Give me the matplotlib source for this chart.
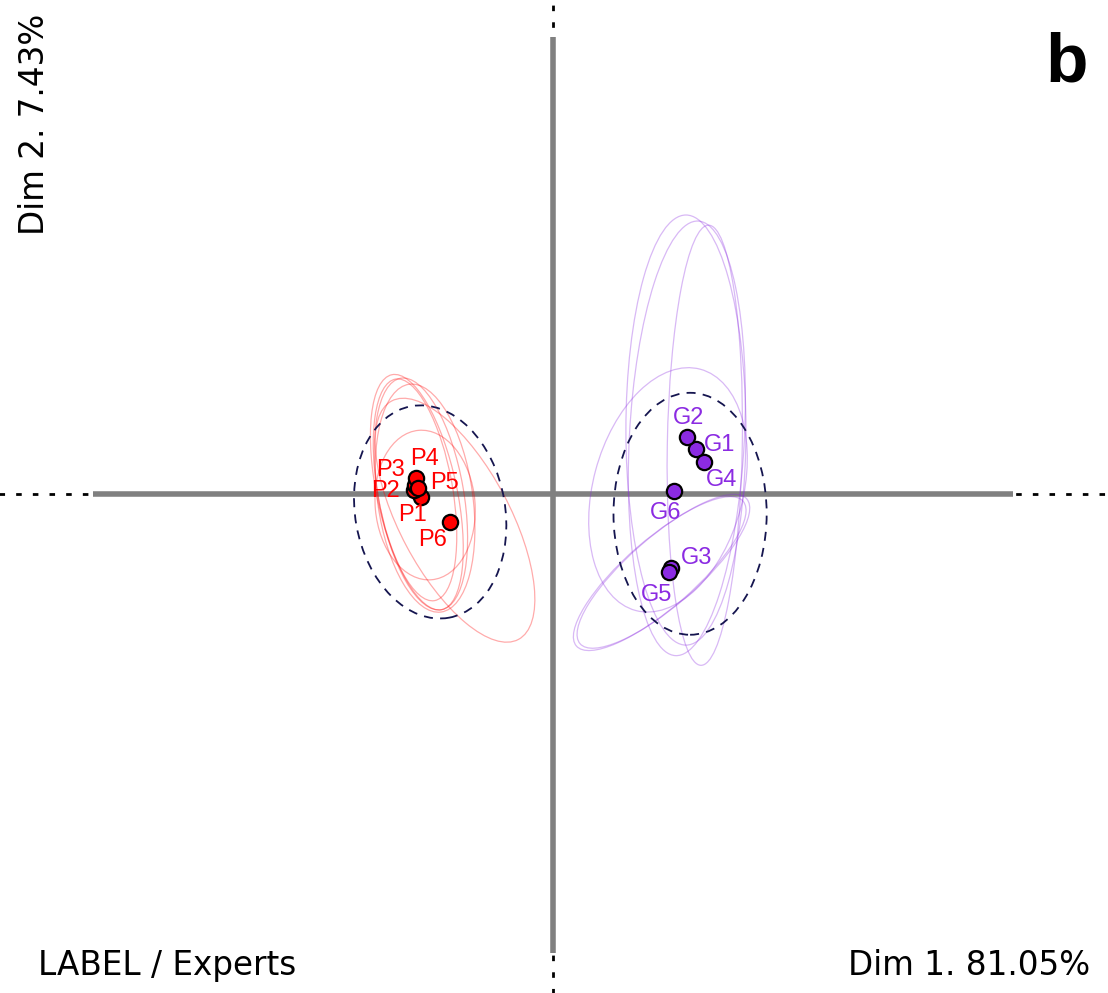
import matplotlib
matplotlib.use("Agg")
import matplotlib.pyplot as plt
from matplotlib.patches import Ellipse

# products and their coordinates on Dim 1 / Dim 2
red_names = ["P1", "P2", "P3", "P4", "P5", "P6"]
red_x = [-0.286, -0.302, -0.300, -0.297, -0.293, -0.224]
red_y = [-0.006, 0.009, 0.020, 0.034, 0.013, -0.060]

purple_names = ["G1", "G2", "G3", "G4", "G5", "G6"]
purple_x = [0.311, 0.292, 0.257, 0.329, 0.252, 0.263]
purple_y = [0.097, 0.123, -0.161, 0.070, -0.170, 0.007]

# confidence ellipses per product: centre x, centre y, width, height, angle
red_ell_cx = [-0.287, -0.296, -0.278, -0.300, -0.278, -0.213]
red_ell_cy = [0.000, 0.004, -0.009, 0.009, -0.024, -0.057]
red_ell_w = [0.185, 0.174, 0.207, 0.163, 0.217, 0.239]
red_ell_h = [0.511, 0.522, 0.500, 0.489, 0.326, 0.587]
red_ell_a = [10, 12, 8, 10, 5, 28]

pur_ell_cx = [0.289, 0.291, 0.330, 0.250, 0.232, 0.240]
pur_ell_cy = [0.139, 0.121, 0.106, 0.009, -0.173, -0.168]
pur_ell_w = [0.261, 0.250, 0.163, 0.326, 0.480, 0.480]
pur_ell_h = [0.935, 0.946, 0.957, 0.543, 0.150, 0.150]
pur_ell_a = [0, -3, -1, -15, 41, 41]

# group ellipses (dashed)
grp_cx = [-0.267, 0.298]
grp_cy = [-0.039, -0.043]
grp_w = [0.326, 0.333]
grp_h = [0.467, 0.526]
grp_a = [10, 0]

# label offsets in pixels
red_off = [(-9, -18), (-29, -1), (-25, 15), (8, 19), (26, 5), (-17, -18)]
pur_off = [(24, 4), (1, 19), (25, 10), (17, -18), (-12, -23), (-8, -22)]

RED = "#FF0000"
PURPLE = "#8B2BE2"
NAVY = "#15154F"

fig = plt.figure(figsize=(11.08, 9.93), dpi=100)
ax = fig.add_axes([0, 0, 1, 1])
ax.set_xlim(-553 / 460, 555 / 460)
ax.set_ylim(-499 / 460, 494 / 460)
ax.axis("off")

# axes: dotted full lines below thick gray segments
ax.plot([-2, 2], [0, 0], color="black", lw=2, ls=(0, (2, 4)), zorder=1)
ax.plot([0, 0], [-2, 2], color="black", lw=2, ls=(0, (2, 4)), zorder=1)
ax.plot([-1, 1], [0, 0], color="#808080", lw=4, solid_capstyle="butt", zorder=2)
ax.plot([0, 0], [-0.998, 0.993], color="#808080", lw=4, solid_capstyle="butt", zorder=2)

for i in range(len(red_ell_cx)):
    ax.add_patch(Ellipse((red_ell_cx[i], red_ell_cy[i]), red_ell_w[i], red_ell_h[i],
                         angle=red_ell_a[i], fill=False, ec=RED, alpha=0.33, lw=0.9, zorder=3))
for i in range(len(pur_ell_cx)):
    ax.add_patch(Ellipse((pur_ell_cx[i], pur_ell_cy[i]), pur_ell_w[i], pur_ell_h[i],
                         angle=pur_ell_a[i], fill=False, ec=PURPLE, alpha=0.33, lw=0.9, zorder=3))
for i in range(len(grp_cx)):
    ax.add_patch(Ellipse((grp_cx[i], grp_cy[i]), grp_w[i], grp_h[i], angle=grp_a[i],
                         fill=False, ec=NAVY, lw=1.3, ls=(0, (5, 4)), zorder=4))

ax.plot(red_x, red_y, "o", ms=11, mfc=RED, mec="black", mew=1.6, ls="none", zorder=5)
ax.plot(purple_x, purple_y, "o", ms=11, mfc=PURPLE, mec="black", mew=1.6, ls="none", zorder=5)

for name, x, y, off in zip(red_names, red_x, red_y, red_off):
    ax.annotate(name, (x, y), xytext=off, textcoords="offset pixels", ha="center", va="center",
                color=RED, fontsize=17, family="Liberation Sans", zorder=6)
for name, x, y, off in zip(purple_names, purple_x, purple_y, pur_off):
    ax.annotate(name, (x, y), xytext=off, textcoords="offset pixels", ha="center", va="center",
                color=PURPLE, fontsize=17, family="Liberation Sans", zorder=6)

fig.text(18 / 1108, 1 - 14 / 993, "Dim 2. 7.43%", rotation=90, ha="left", va="top", fontsize=23.5)
fig.text(38 / 1108, 1 - 975 / 993, "LABEL / Experts", ha="left", va="baseline", fontsize=23.5)
fig.text(1090 / 1108, 1 - 975 / 993, "Dim 1. 81.05%", ha="right", va="baseline", fontsize=23.5)
fig.text(1088 / 1108, 1 - 82 / 993, "b", ha="right", va="baseline", fontsize=50,
         fontweight="bold", family="Liberation Sans")

fig.savefig("out.png", dpi=100)
